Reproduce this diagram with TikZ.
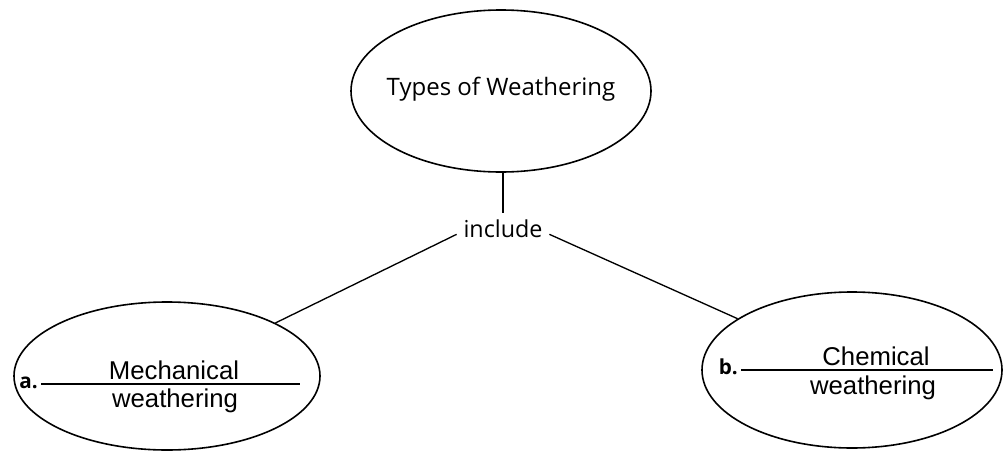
\documentclass[tikz,border=0pt]{standalone}
\usepackage{fontspec}
\setmainfont{Liberation Sans}
\newfontfamily\printfont{Open Sans}
\usetikzlibrary{shapes.geometric}
\begin{document}
\begin{tikzpicture}[x=0.75pt,y=-0.75pt,
  bubble/.style={draw, ellipse, line width=1.2pt, inner sep=0pt},
  link/.style={line width=1pt},
  printed/.style={font=\printfont\fontsize{18}{21}\selectfont, inner sep=0pt},
  hand/.style={font=\fontsize{19.3}{22}\selectfont, inner sep=0pt},
  lbl/.style={font=\printfont\bfseries\fontsize{15.5}{18}\selectfont, inner sep=0pt, anchor=base east},
  blank/.style={line width=0.9pt}]
\useasboundingbox (0,0) rectangle (1003,457);
\node[bubble, minimum width=225pt, minimum height=121.5pt] (T) at (501,91) {};
\node[printed] (Ttxt) at (501,89) {Types of Weathering};
\node[printed, inner sep=5pt, font=\printfont\fontsize{17.5}{20}\selectfont] (inc) at (503,229) {include};
\node[bubble, minimum width=229.5pt, minimum height=111pt] (L) at (167,376) {};
\node[bubble, minimum width=225pt, minimum height=117pt] (R) at (852,370) {};
\draw[link] (T.south -| inc.north) -- (inc.north);
\draw[link] ([yshift=-4pt]inc.west) -- (L);
\draw[link] ([yshift=-4pt]inc.east) -- (R);
% left bubble contents
\node[lbl] (la) at (38,388) {a.};
\coordinate (laend) at (300,384);
\draw[blank] (la.base east) ++(3,-4) coordinate (lastart) -- (lastart -| laend);
\node[hand] (lm) at (174,370) {Mechanical};
\node[hand] (lw) at (175,401) {weathering};
% right bubble contents
\node[lbl] (rb) at (738,374) {b.};
\coordinate (rbend) at (993,370);
\draw[blank] (rb.base east) ++(3,-4) coordinate (rbstart) -- (rbstart -| rbend);
\node[hand] (rc) at (876,356) {Chemical};
\node[hand] (rw) at (873,388) {weathering};
\end{tikzpicture}
\end{document}
